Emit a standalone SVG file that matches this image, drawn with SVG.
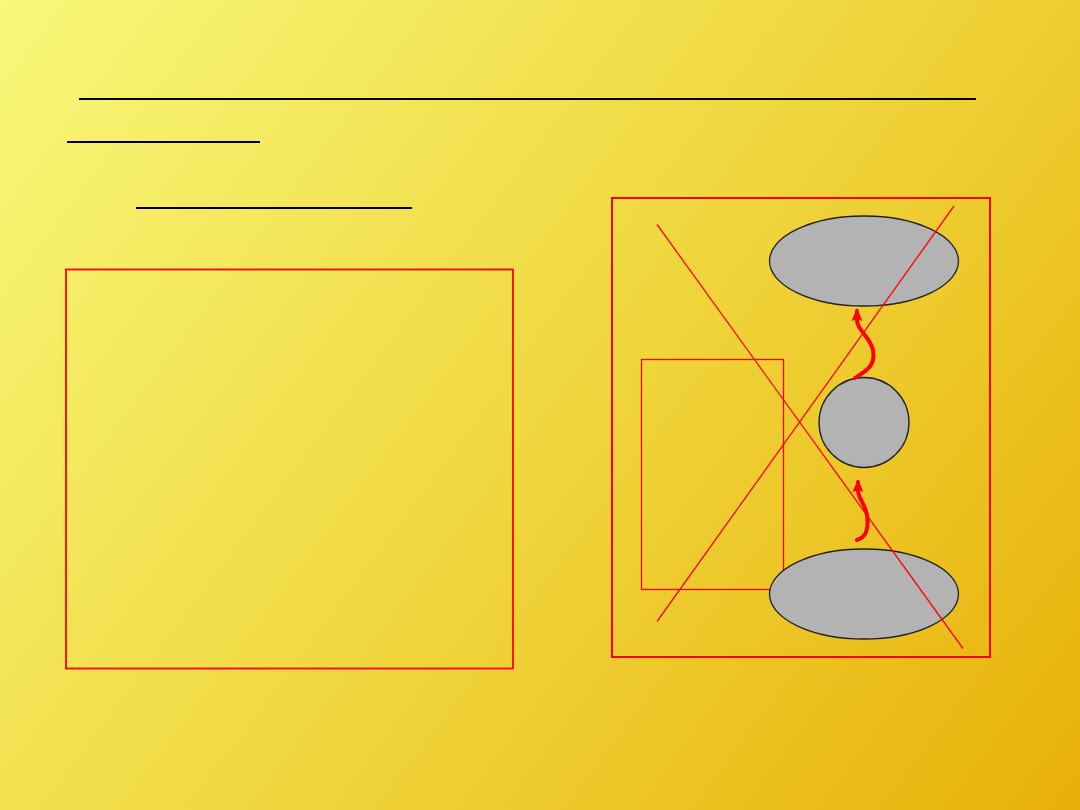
<svg xmlns="http://www.w3.org/2000/svg" width="1080" height="810" viewBox="0 0 1080 810">
<defs>
<linearGradient id="bg" x1="0" y1="0" x2="1080" y2="810" gradientUnits="userSpaceOnUse">
<stop offset="0" stop-color="#F8F87A"/>
<stop offset="0.5" stop-color="#F0D840"/>
<stop offset="1" stop-color="#E8B008"/>
</linearGradient>
<marker id="ah" viewBox="0 0 14 14" refX="10" refY="7" markerWidth="14" markerHeight="14" orient="auto" markerUnits="userSpaceOnUse">
<path d="M0,1.5 L13,7 L0,12.5 L2,7 z" fill="#FF0000"/>
</marker>
<style>
.rule{stroke:#000;stroke-width:2;fill:none}
.box{fill:none;stroke:#FF0000}
.cross{stroke:#FF0000;stroke-width:1.3;fill:none}
.node{fill:#B3B3B3;stroke:#222;stroke-width:1.3}
.arrow{fill:none;stroke:#FF0000;stroke-width:4;stroke-linecap:round;marker-end:url(#ah)}
</style>
</defs>
<rect width="1080" height="810" fill="url(#bg)"/>
<g id="rules">
<line class="rule" x1="79" y1="99" x2="976" y2="99"/>
<line class="rule" x1="67" y1="142" x2="260" y2="142"/>
<line class="rule" x1="136" y1="208" x2="412" y2="208"/>
</g>
<g id="left-box"><rect class="box" x="66" y="269.5" width="447" height="399" stroke-width="1.8"/></g>
<g id="right-box"><rect class="box" x="612" y="198" width="378" height="459" stroke-width="2"/></g>
<g id="inner-box"><rect class="box" x="641.5" y="359.5" width="142" height="230" stroke-width="1.3"/></g>
<g id="top-ellipse"><ellipse class="node" cx="864" cy="261" rx="94.5" ry="45"/></g>
<g id="circle"><circle class="node" cx="864" cy="422.5" r="45"/></g>
<g id="bottom-ellipse"><ellipse class="node" cx="864" cy="594" rx="94.5" ry="45"/></g>
<g id="cross">
<line class="cross" x1="657" y1="224.5" x2="963" y2="648.5"/>
<line class="cross" x1="657" y1="621.5" x2="954" y2="206"/>
</g>
<g id="connectors">
<path class="arrow" d="M855,378 C866,371 876,366 873,350 C870,336 856,330 857,318 L857,311"/>
<path class="arrow" d="M857,540 C866,537 869,530 867,515 C865,503 857,497 858,489 L858,482"/>
</g>
</svg>
